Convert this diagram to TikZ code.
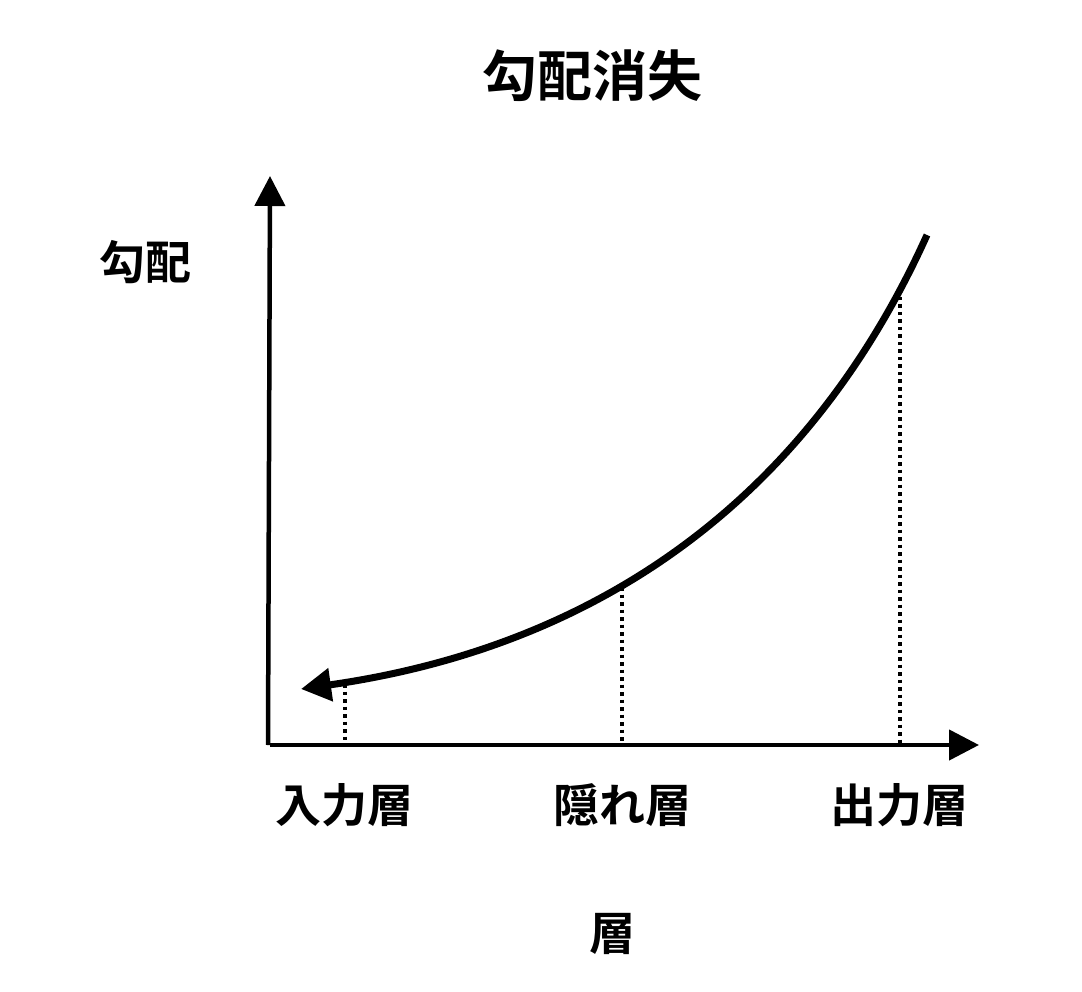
\documentclass[tikz,border=0pt]{standalone}
\usepackage{fontspec}
\setmainfont{Noto Sans CJK JP}
\newfontfamily\cjkb{Noto Sans CJK JP Bold}
\usetikzlibrary{arrows.meta}
\begin{document}
\begin{tikzpicture}[x=1pt,y=-1pt,
  axis/.style={line width=4.5pt,-{Triangle[length=30pt,width=30pt]}},
  curve/.style={line width=7pt,-{Triangle[length=30pt,width=32pt]}},
  guide/.style={line width=3.5pt,dash pattern=on 3.5pt off 4pt},
  lbl/.style={font=\cjkb\fontsize{46}{46}\selectfont,inner sep=0pt},
  ttl/.style={font=\cjkb\fontsize{55}{55}\selectfont,inner sep=0pt}]
\useasboundingbox (0,0) rectangle (1082,992);
\fill[white] (0,0) rectangle (1082,992);
\coordinate (O) at (270,745);
\coordinate (ytop) at (270,176);
\coordinate (xend) at (979,745);
\draw[axis] (268,745) -- (ytop);
\draw[axis] (O) -- (xend);
\coordinate (p1) at (345,684);
\coordinate (p2) at (622,587);
\coordinate (p3) at (900,297);
\coordinate (b1) at (345,745);
\coordinate (b2) at (622,745);
\coordinate (b3) at (900,745);
\draw[guide] (p1) -- (b1);
\draw[guide] (p2) -- (b2);
\draw[guide] (p3) -- (b3);
\coordinate (cstart) at (927,235);
\coordinate (ctip) at (301,689);
\draw[curve] (cstart) .. controls (812,490) and (609,645) .. (ctip);
\node[ttl] (title) at (592,76) {勾配消失};
\node[lbl] (ylab) at (145,262) {勾配};
\node[lbl] (l1) at (344,805) {入力層};
\node[lbl] (l2) at (622,805) {隠れ層};
\node[lbl] (l3) at (899,805) {出力層};
\node[lbl] (xlab) at (612,934) {層};
\end{tikzpicture}
\end{document}
